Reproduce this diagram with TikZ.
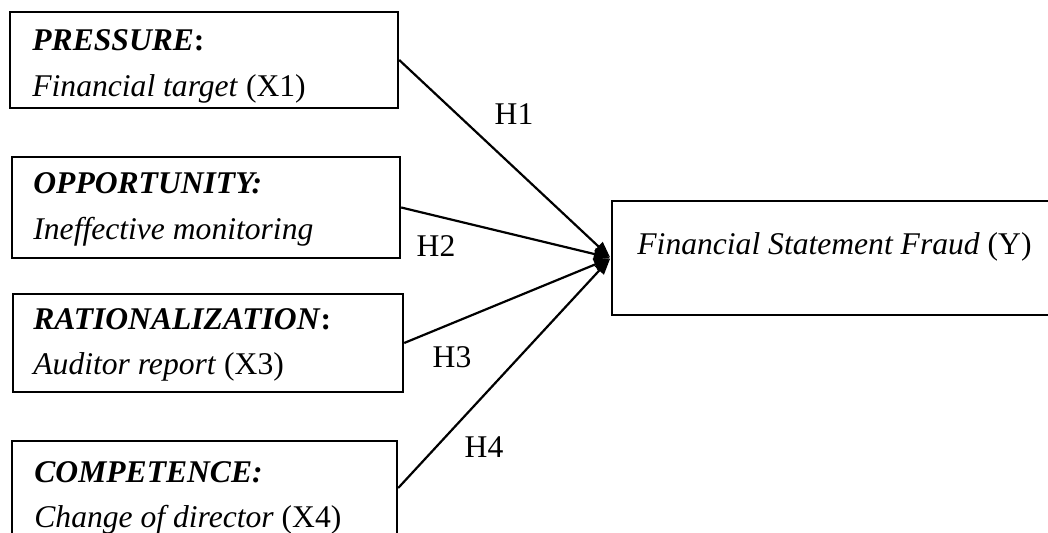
\documentclass[tikz,border=0pt]{standalone}
\usepackage{fontspec}
\setmainfont{Liberation Serif}
\usetikzlibrary{arrows.meta}
\begin{document}
\begin{tikzpicture}[x=0.5pt,y=-0.5pt,
  box/.style={draw, line width=1.2pt, inner sep=0pt, rectangle},
  lbl/.style={inner sep=0pt, anchor=base west, font=\fontsize{15.8}{19}\selectfont},
  hyp/.style={inner sep=0pt, font=\fontsize{15.8}{19}\selectfont},
  conn/.style={line width=1.1pt, -{Triangle[length=8pt,width=6pt]}, shorten >=0.5pt}]
\useasboundingbox (0,0) rectangle (1048,533);
% boxes
\node[box, minimum width=194pt, minimum height=48pt] (b1) at (204,60) {};
\node[box, minimum width=194pt, minimum height=50.5pt] (b2) at (206,207.5) {};
\node[box, minimum width=195pt, minimum height=49pt] (b3) at (208,343) {};
\node[box, minimum width=192.5pt, minimum height=47pt] (b4) at (204.5,488) {};
\node[box, minimum width=219pt, minimum height=57pt] (y) at (831,258) {};
% texts
\node[lbl] (t1a) at (32,51) {\textbf{\textit{PRESSURE}:}};
\node[lbl] (t1b) at (32,97) {\textit{Financial target} (X1)};
\node[lbl] (t2a) at (33,194) {\textbf{\textit{OPPORTUNITY:}}};
\node[lbl] (t2b) at (33,240) {\textit{Ineffective monitoring}};
\node[lbl] (t3a) at (33,330) {\textbf{\textit{RATIONALIZATION}:}};
\node[lbl] (t3b) at (33,375) {\textit{Auditor report} (X3)};
\node[lbl] (t4a) at (34,482) {\textbf{\textit{COMPETENCE:}}};
\node[lbl] (t4b) at (34,527) {\textit{Change of director} (X4)};
\node[lbl] (ty) at (637,255) {\textit{Financial Statement Fraud} (Y)};
% connectors
\draw[conn] (b1.east) -- (y.west);
\draw[conn] (b2.east) -- (y.west);
\draw[conn] (b3.east) -- (y.west);
\draw[conn] (b4.east) -- (y.west);
% hypothesis labels
\node[hyp] (h1) at (514,114) {H1};
\node[hyp] (h2) at (436,246) {H2};
\node[hyp] (h3) at (452,357) {H3};
\node[hyp] (h4) at (484,447) {H4};
\end{tikzpicture}
\end{document}
